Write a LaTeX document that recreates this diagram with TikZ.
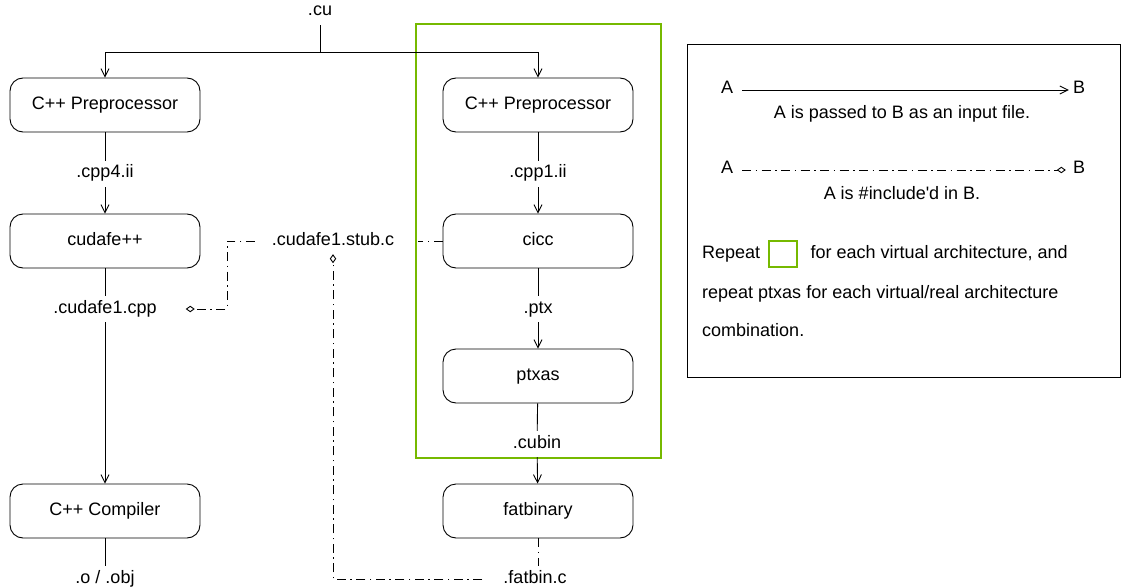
\documentclass[tikz,border=0pt]{standalone}
\usepackage{fontspec}
\setmainfont{Liberation Sans}
\usetikzlibrary{arrows.meta,positioning}
\definecolor{nvgreen}{RGB}{118,185,0}
\tikzset{
  proc/.style = {draw, line width = 0.9pt, rounded corners = 13pt,
    minimum width = 190pt, minimum height = 54pt,
    text height = 13pt, text depth = 4pt},
  txt/.style = {inner sep = 4pt, text height = 13pt, text depth = 5pt},
  wire/.style = {line width = 0.9pt},
  pass/.style = {line width = 0.9pt, -{Straight Barb[length = 8pt, width = 8pt]}},
  incl/.style = {line width = 0.9pt,
    dash pattern = on 9pt off 4.5pt on 1.5pt off 4.5pt,
    -{Diamond[open, length = 9pt, width = 6.5pt]}}
}
\begin{document}
\begin{tikzpicture}[x = 1pt, y = -1pt, font = \fontsize{18}{22}\selectfont]
        \useasboundingbox (0,0) rectangle (1123,588);

        % draws the boundaries
        \draw[nvgreen, line width = 2pt] (416,24) rectangle (661,458);
        \draw[wire] (687,44) rectangle (1120,377);

        % draws the tools
        \foreach \name/\x/\y/\tool in {pre1/105/105/C++ Preprocessor,
            fe/105/241/cudafe++, cc/105/511/C++ Compiler,
            pre2/538/105/C++ Preprocessor, cicc/538/241/cicc,
            ptxas/538/376/ptxas, fatbin/538/511/fatbinary}
          \node[proc] (\name) at (\x,\y) {\tool};

        % draws the files
        \node[txt] (cu) at (320,12) {.cu};
        \node[txt] (cppfour) at (105,174) {.cpp4.ii};
        \node[txt] (cfecpp) at (105,309) {.cudafe1.cpp};
        \node[txt] (oobj) at (105,579) {.o / .obj};
        \node[txt] (cppone) at (538,174) {.cpp1.ii};
        \node[txt] (ptx) at (538,309) {.ptx};
        \node[txt] (cubin) at (537,444) {.cubin};
        \node[txt] (fatbinc) at (535,579) {.fatbin.c};
        \node[txt] (stub) at (333,241) {.cudafe1.stub.c};

        % draws the input arrows
        \coordinate (fork) at (320,52);
        \draw[wire] (cu) -- (fork);
        \foreach \t in {pre1, pre2}
          \draw[pass] (fork) -| (\t);
        \foreach \a/\b in {pre1/cppfour, fe/cfecpp, cc/oobj,
            pre2/cppone, cicc/ptx, ptxas/cubin}
          \draw[wire] (\a) -- (\b);
        \foreach \a/\b in {cppfour/fe, cfecpp/cc, cppone/cicc,
            ptx/ptxas, cubin/fatbin}
          \draw[pass] (\a) -- (\b);

        % draws the includes
        \coordinate (bend) at (227,241);
        \draw[incl, -, shorten > = 20pt] (cicc) -- (stub);
        \draw[incl, shorten < = 13pt, shorten > = 25pt] (stub) -- (bend) |- (cfecpp);
        \draw[incl, shorten < = 17pt] (fatbinc) -| (stub);
        \draw[incl, -] (fatbin.south) -- (fatbin.south |- fatbinc.north);

        % draws the legend
        \node[txt] (la1) at (727,90) {A};
        \node[txt] (lb1) at (1079,90) {B};
        \draw[pass, shorten < = 5pt] (la1) -- (lb1);
        \node[txt] (lnote1) at (902,115) {A is passed to B as an input file.};
        \node[txt] (la2) at (727,170) {A};
        \node[txt] (lb2) at (1079,170) {B};
        \draw[incl, shorten < = 5pt, shorten > = 3pt] (la2) -- (lb2);
        \node[txt] (lnote2) at (902,196) {A is \#include\textquotesingle d in B.};

        \node[txt, anchor = west] (rep) at (698,254) {Repeat};
        \node[draw = nvgreen, line width = 2pt, minimum width = 28pt,
          minimum height = 26pt, right = 4pt of rep] (repbox) {};
        \node[txt, right = 8pt of repbox] (reptxt) {for each virtual architecture, and};
        \node[txt, anchor = west] (rep2) at (698,294) {repeat ptxas for each virtual/real architecture};
        \node[txt, anchor = west] (rep3) at (698,332) {combination.};
      \end{tikzpicture}
\end{document}
